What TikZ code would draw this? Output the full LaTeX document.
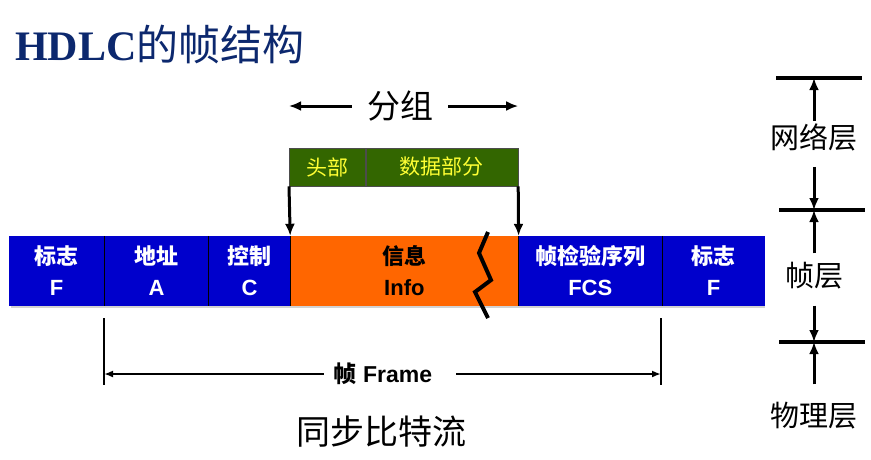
\documentclass[tikz,border=0pt]{standalone}
\usepackage{fontspec}
\setmainfont{Liberation Sans}
\newfontfamily\cjk{Noto Sans CJK SC}
\newfontfamily\titlefont{Liberation Serif}
\usetikzlibrary{arrows.meta}

\begin{document}
\begin{tikzpicture}[x=1pt,y=-1pt]
	\definecolor{titleblue}{RGB}{12,40,110}
	\definecolor{fieldblue}{RGB}{0,0,204}
	\definecolor{infoorange}{RGB}{255,102,0}
	\definecolor{headgreen}{RGB}{51,102,0}
	\definecolor{headyellow}{RGB}{255,255,51}

	\tikzset{
		field/.style={fill=fieldblue, anchor=west, minimum height=70pt, inner sep=0pt, align=center, text=white, font=\bfseries\fontsize{22}{31}\selectfont},
		headbox/.style={fill=headgreen, draw=black!70, line width=0.6pt, anchor=west, minimum height=38pt, inner sep=0pt, text=headyellow, font=\cjk\fontsize{21}{21}\selectfont},
		layer/.style={inner sep=0pt, font=\cjk\fontsize{29}{29}\selectfont},
		arrow/.style={-{Latex[length=12pt,width=10pt]}, line width=3pt},
		thinarrow/.style={-{Latex[length=9pt,width=7pt]}, line width=2pt},
		layerline/.style={line width=3.2pt},
	}

	\useasboundingbox (0,0) rectangle (871,459);

	\node[anchor=west, text=titleblue, inner sep=0pt, font=\fontsize{42}{42}\selectfont] (title) at (15,44) {{\titlefont\bfseries HDLC}{\cjk 的帧结构}};

	\fill[gray!35] (11,238) rectangle (765,308);
	\node[field, minimum width=95pt] (flagl) at (9,271) {{\cjk 标志}\\F};
	\node[field, minimum width=104pt] (addr) at (flagl.east) {{\cjk 地址}\\A};
	\node[field, minimum width=81pt] (ctrl) at (addr.east) {{\cjk 控制}\\C};
	\node[field, minimum width=228pt, fill=infoorange, text=black] (info) at (ctrl.east) {{\cjk 信息}\\Info};
	\node[field, minimum width=143pt] (fcs) at (info.east) {{\cjk 帧检验序列}\\FCS};
	\node[field, minimum width=103pt] (flagr) at (fcs.east) {{\cjk 标志}\\F};

	\draw[line width=1pt] (flagl.north east) -- (flagl.south east);
	\draw[line width=1pt] (addr.north east) -- (addr.south east);
	\draw[line width=1pt] (ctrl.north east) -- (ctrl.south east);
	\draw[line width=1pt] (info.north east) -- (info.south east);
	\draw[line width=1pt] (fcs.north east) -- (fcs.south east);

	\draw[line width=4pt] (488,232) -- (479,253) -- (491,280) -- (475,292) -- (488,318);

	\node[headbox, minimum width=76pt] (head) at (289,167) {头部};
	\node[headbox, minimum width=152pt] (data) at (head.east) {数据部分};
	\draw[arrow] (head.south west) -- (info.north west);
	\draw[arrow] (data.south east) -- (info.north east);

	\node[font=\cjk\fontsize{33}{33}\selectfont, inner xsep=15pt] (packet) at (400,106) {分组};
	\draw[arrow] (packet.west) -- (packet.west -| head.west);
	\draw[arrow] (packet.east) -- (packet.east -| data.east);

	\draw[line width=2pt] (104,318) coordinate (tickl) -- (104,385);
	\draw[line width=2pt] (661,318) coordinate (tickr) -- (661,385);
	\node[font=\bfseries\fontsize{23}{23}\selectfont, inner xsep=10pt] (frame) at (383,374) {{\cjk 帧} Frame};
	\draw[thinarrow] (frame.west) -- (frame.west -| tickl);
	\draw[thinarrow] ([xshift=14pt]frame.east) -- (frame.east -| tickr);

	\node[font=\cjk\fontsize{34}{34}\selectfont] (bitstream) at (381,432) {同步比特流};

	\draw[layerline] (776,78) -- coordinate[pos=.44] (netline) (862,78);
	\draw[layerline] (779,210) -- coordinate[pos=.40] (frameline) (865,210);
	\draw[layerline] (779,342) -- coordinate[pos=.40] (physline) (865,342);

	\node[layer] (netlab) at (814,137) {网络层};
	\node[layer] (framelab) at (814,276) {帧层};
	\node[layer] (physlab) at (814,416) {物理层};

	\draw[arrow, shorten <=2pt] (netlab.north) -- (netlab.north |- netline);
	\draw[arrow, shorten <=16pt] (netlab.south) -- (netlab.south |- frameline);
	\draw[arrow, shorten <=9pt] (framelab.north) -- (framelab.north |- frameline);
	\draw[arrow, shorten <=16pt] (framelab.south) -- (framelab.south |- physline);
	\draw[arrow, shorten <=18pt] (physlab.north) -- (physlab.north |- physline);
\end{tikzpicture}
\end{document}
